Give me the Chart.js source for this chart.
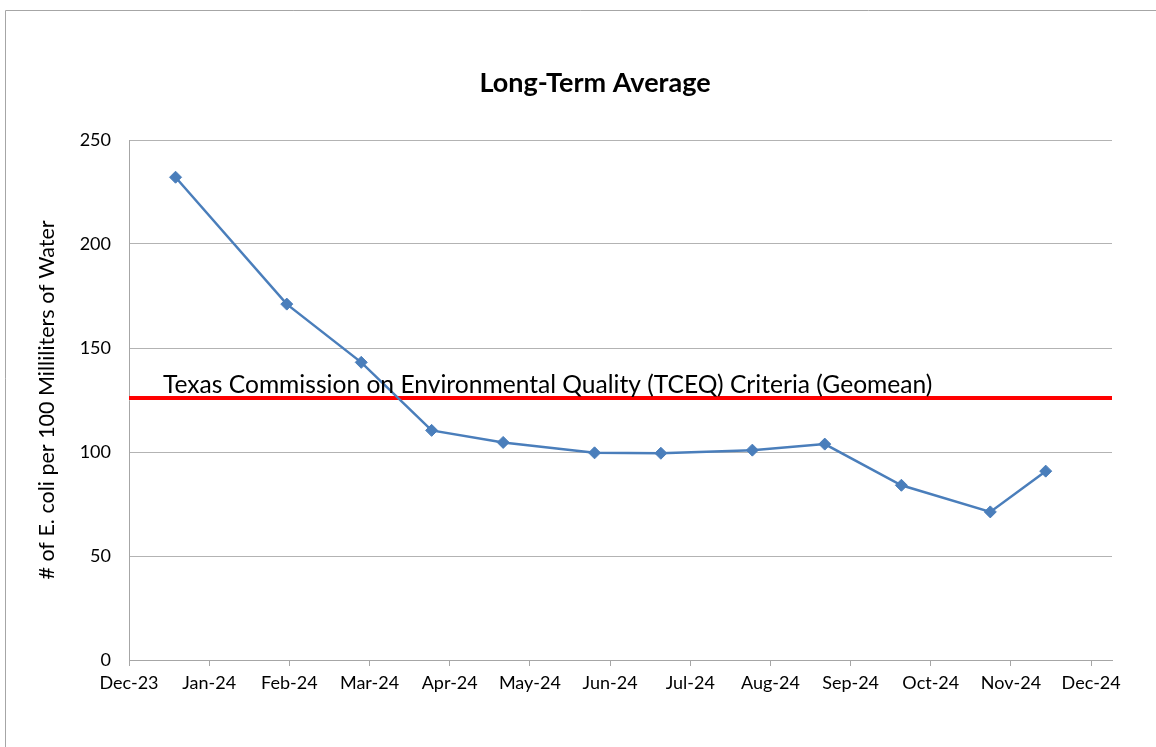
<!DOCTYPE html>
<html>
<head>
<meta charset="utf-8">
<script src="https://cdn.jsdelivr.net/npm/chart.js@4.4.1/dist/chart.umd.min.js"></script>
<style>
  html, body { margin: 0; padding: 0; background: #fff; }
  #wrap { width: 1156px; height: 747px; }
</style>
</head>
<body>
<div id="wrap"><canvas id="ltaChart" width="1156" height="747"></canvas></div>
<script>
// sampling dates and long-term average E. coli counts
const sampleDates = ['2023-12-19', '2024-01-31', '2024-02-27', '2024-03-25', '2024-04-21', '2024-05-26',
                     '2024-06-20', '2024-07-25', '2024-08-22', '2024-09-20', '2024-10-24', '2024-11-14'];
const ecoliValues = [232.1, 171.1, 143.1, 110.4, 104.6, 99.6, 99.4, 100.9, 103.8, 84.0, 71.2, 90.8];
const monthLabels = ['Dec-23', 'Jan-24', 'Feb-24', 'Mar-24', 'Apr-24', 'May-24', 'Jun-24',
                     'Jul-24', 'Aug-24', 'Sep-24', 'Oct-24', 'Nov-24', 'Dec-24'];
const yTicks = [0, 50, 100, 150, 200, 250];
const tceqCriteria = 126;
const xMax = 12.26;

const FONT = 'Lato, "Open Sans", sans-serif';

// month offset from Dec-23 (month index + fraction of the month)
function monthPos(str) {
    const [y, m, d] = str.split('-').map(Number);
    const days = new Date(y, m, 0).getDate();
    return (y - 2023) * 12 + (m - 1) - 11 + (d - 1) / days;
}

const points = sampleDates.map((d, i) => ({ x: monthPos(d), y: ecoliValues[i] }));

const framePlugin = {
    id: 'frame',
    beforeDraw(chart) {
        const ctx = chart.ctx;
        ctx.save();
        ctx.fillStyle = '#fff';
        ctx.fillRect(0, 0, chart.width, chart.height);
        ctx.strokeStyle = '#a6a6a6';
        ctx.lineWidth = 1;
        ctx.beginPath();
        ctx.moveTo(5.5, chart.height);
        ctx.lineTo(5.5, 10.5);
        ctx.lineTo(chart.width, 10.5);
        ctx.stroke();
        ctx.restore();
    },
    afterDraw(chart) {
        const ctx = chart.ctx;
        const yScale = chart.scales.y;
        ctx.save();
        ctx.fillStyle = '#000';
        ctx.font = 'bold 27px ' + FONT;
        ctx.textAlign = 'center';
        ctx.textBaseline = 'middle';
        ctx.fillText('Long-Term Average', 595, 83);

        ctx.font = '24.6px ' + FONT;
        ctx.textAlign = 'left';
        ctx.textBaseline = 'alphabetic';
        ctx.fillText('Texas Commission on Environmental Quality (TCEQ) Criteria (Geomean)',
            chart.chartArea.left + 34, yScale.getPixelForValue(tceqCriteria) - 5);
        ctx.restore();
    }
};

new Chart(document.getElementById('ltaChart'), {
    type: 'line',
    data: {
        datasets: [{
            label: 'Long-Term Average',
            data: points,
            borderColor: '#4a7ebb',
            backgroundColor: '#4a7ebb',
            borderWidth: 2.5,
            pointStyle: 'rectRot',
            pointRadius: 6,
            pointBorderWidth: 1,
            tension: 0
        }, {
            label: 'TCEQ Criteria',
            data: [{ x: 0, y: tceqCriteria }, { x: xMax, y: tceqCriteria }],
            borderColor: '#ff0000',
            borderWidth: 4,
            pointRadius: 0
        }]
    },
    options: {
        responsive: false,
        animation: false,
        layout: { padding: { top: 140, left: 0, right: 44, bottom: 0 } },
        plugins: {
            legend: { display: false },
            tooltip: { enabled: false },
            title: { display: false }
        },
        scales: {
            x: {
                type: 'linear',
                min: 0,
                max: xMax,
                afterBuildTicks: s => { s.ticks = monthLabels.map((_, i) => ({ value: i })); },
                afterFit: s => { s.height = 87; },
                ticks: {
                    autoSkip: false,
                    maxRotation: 0,
                    color: '#000',
                    font: { family: FONT, size: 18 },
                    padding: 6,
                    callback: v => monthLabels[v]
                },
                grid: { drawOnChartArea: false, tickLength: 6, color: '#a6a6a6' },
                border: { color: '#a6a6a6', width: 1 }
            },
            y: {
                min: 0,
                max: 250,
                afterBuildTicks: s => { s.ticks = yTicks.map(v => ({ value: v })); },
                afterFit: s => { s.width = 129; },
                ticks: {
                    color: '#000',
                    font: { family: FONT, size: 18 },
                    padding: 18
                },
                grid: { color: '#b3b3b3', tickLength: 0 },
                border: { color: '#a6a6a6', width: 1 },
                title: {
                    display: true,
                    text: '# of E. coli per 100 Milliliters of Water',
                    color: '#000',
                    font: { family: FONT, size: 21.5 },
                    padding: { top: 34, bottom: 0 }
                }
            }
        }
    },
    plugins: [framePlugin]
});
</script>
</body>
</html>
